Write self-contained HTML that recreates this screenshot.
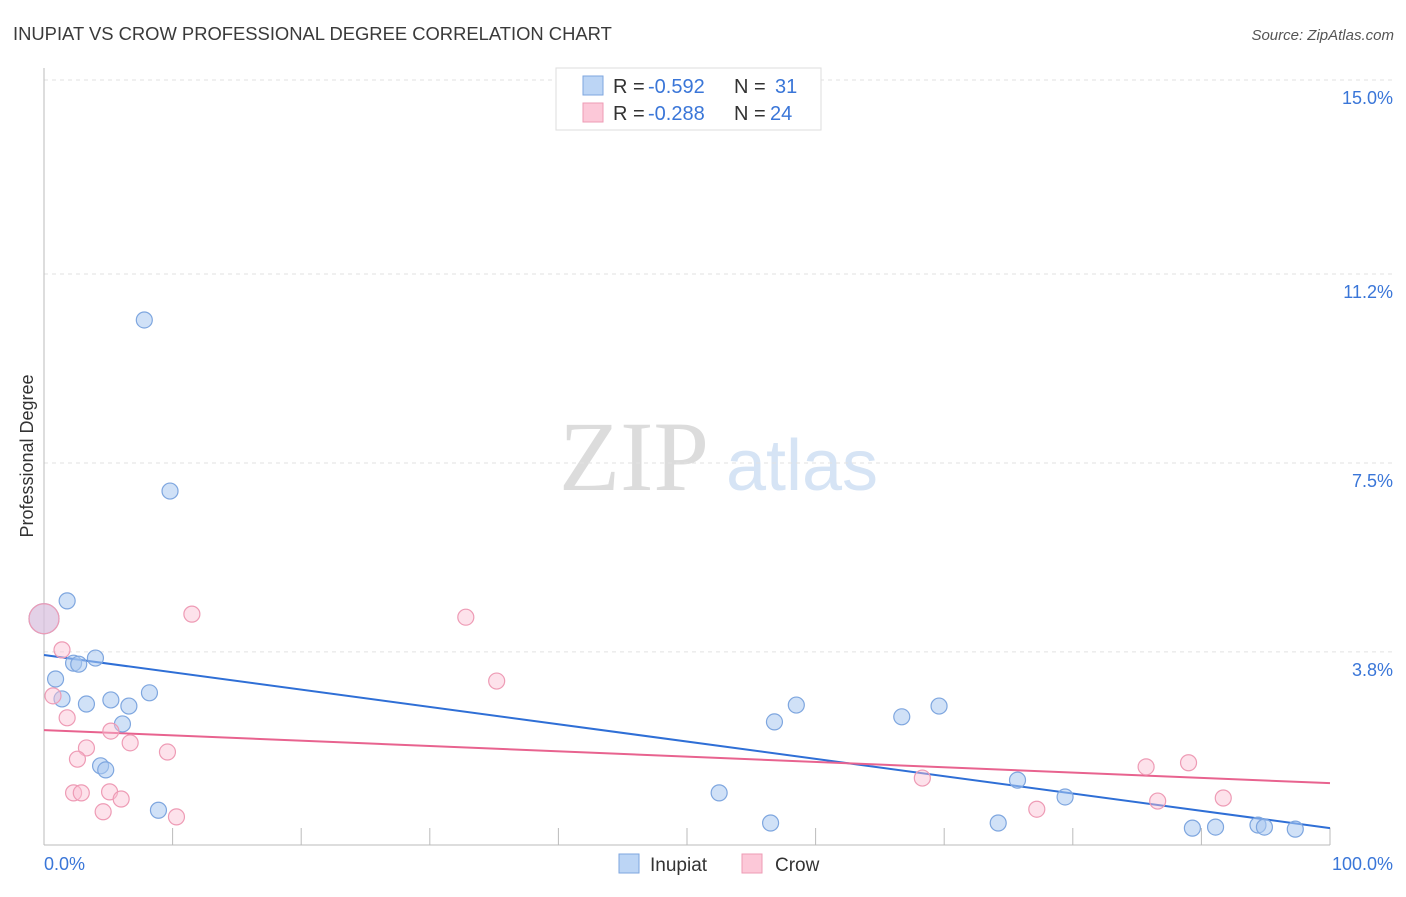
<!DOCTYPE html>
<html><head><meta charset="utf-8"><style>
body{margin:0;background:#fff;}
</style></head><body>
<svg id="chart" width="1406" height="892" xmlns="http://www.w3.org/2000/svg" font-family="Liberation Sans, sans-serif">
<text x="13" y="40" font-size="18.4" fill="#3a3a3a">INUPIAT VS CROW PROFESSIONAL DEGREE CORRELATION CHART</text>
<text x="1394" y="40" font-size="15" fill="#555" text-anchor="end" font-style="italic">Source: ZipAtlas.com</text>
<text transform="translate(33,456) rotate(-90)" font-size="18" fill="#333" text-anchor="middle">Professional Degree</text>
<g>
<text x="634" y="490" font-size="100" fill="#dcdcdc" style="font-family:'Liberation Serif',serif" text-anchor="middle">ZIP</text>
<text x="802" y="490" font-size="72" fill="#d6e4f5" text-anchor="middle">atlas</text>
</g>
<g id="grid"></g><g id="axes"></g><g id="lines"></g><g id="pts"></g>
<g>
<rect x="556" y="68" width="265" height="62" fill="#fff" stroke="#ddd"/>
<rect x="583" y="76" width="20" height="19" fill="#bcd5f5" stroke="#7ea6df"/>
<rect x="583" y="103" width="20" height="19" fill="#fcc8d8" stroke="#ee9bb5"/>
<text x="613" y="93" font-size="20" fill="#333">R =</text>
<text x="648" y="93" font-size="20" fill="#3a76d8">-0.592</text>
<text x="734" y="93" font-size="20" fill="#333">N =</text>
<text x="775" y="93" font-size="20" fill="#3a76d8">31</text>
<text x="613" y="120" font-size="20" fill="#333">R =</text>
<text x="648" y="120" font-size="20" fill="#3a76d8">-0.288</text>
<text x="734" y="120" font-size="20" fill="#333">N =</text>
<text x="770" y="120" font-size="20" fill="#3a76d8">24</text>
</g>
<g>
<rect x="619" y="854" width="20" height="19" fill="#bcd5f5" stroke="#7ea6df"/>
<text x="650" y="871" font-size="19" fill="#333">Inupiat</text>
<rect x="742" y="854" width="20" height="19" fill="#fcc8d8" stroke="#ee9bb5"/>
<text x="775" y="871" font-size="19" fill="#333">Crow</text>
</g>
</svg>
<script>
const yTicks=[15.0,11.2,7.5,3.8];
const yTickLabels=["15.0%","11.2%","7.5%","3.8%"];
const xTickLabels=["0.0%","100.0%"];
const inupiatX=[7.8,9.8,1.8,0,2.3,2.7,4.0,0.9,1.4,3.3,5.2,6.6,8.2,6.1,4.4,4.8,8.9,52.5,56.5,56.8,58.5,66.7,69.6,74.2,75.7,79.4,89.3,91.1,94.4,94.9,97.3];
const inupiatY=[10.3,6.95,4.8,4.45,3.58,3.56,3.68,3.27,2.88,2.78,2.86,2.74,3.0,2.39,1.57,1.49,0.70,1.04,0.45,2.43,2.76,2.53,2.74,0.45,1.29,0.96,0.35,0.37,0.41,0.37,0.33];
const crowX=[0,11.5,32.8,35.2,1.4,0.7,1.8,5.2,3.3,6.7,2.6,9.6,2.3,2.9,5.1,6.0,4.6,10.3,68.3,77.2,85.7,86.6,89.0,91.7];
const crowY=[4.45,4.54,4.48,3.23,3.84,2.94,2.51,2.25,1.92,2.02,1.70,1.84,1.04,1.04,1.06,0.92,0.67,0.57,1.33,0.72,1.55,0.88,1.63,0.94];
const inupiatTrend=[3.74,0.35];
const crowTrend=[2.27,1.23];
const NS="http://www.w3.org/2000/svg";
const X=v=>44+v*12.86, Y=v=>846-v*51.07;
function mk(p,t,a){const e=document.createElementNS(NS,t);for(const k in a)e.setAttribute(k,a[k]);document.getElementById(p).appendChild(e);return e;}
yTicks.forEach((t,i)=>{
 const l=mk('grid','line',{x1:44,x2:1394,y1:Y(t),y2:Y(t),stroke:'#e2e2e2','stroke-dasharray':'4,4'});
 
 
 const tx=mk('grid','text',{x:1393,y:Y(t)+24,'font-size':18,fill:'#3a76d8','text-anchor':'end'});tx.textContent=yTickLabels[i];
 
 
});
mk('axes','line',{x1:44,x2:44,y1:68,y2:845,stroke:'#bbb'});
mk('axes','line',{x1:44,x2:1330,y1:845,y2:845,stroke:'#bbb'});
for(let i=0;i<=10;i++){mk('axes','line',{x1:X(i*10),x2:X(i*10),y1:828,y2:845,stroke:'#bbb'});}
const xl0=mk('axes','text',{x:44,y:870,'font-size':18,fill:'#3a76d8'});xl0.textContent=xTickLabels[0];


const xl1=mk('axes','text',{x:1393,y:870,'font-size':18,fill:'#3a76d8','text-anchor':'end'});xl1.textContent=xTickLabels[1];


function pts(xs,ys,fill,stroke,name){xs.forEach((x,i)=>{const r=(x===0)?15:8;const c=mk('pts','circle',{cx:X(x),cy:Y(ys[i]),r:r,fill:fill,stroke:stroke,'stroke-width':1.2});
 
 });}
pts(inupiatX,inupiatY,'rgba(170,200,240,0.55)','#7ea6df','inupiat-point');
pts(crowX,crowY,'rgba(250,190,210,0.45)','#ee9bb5','crow-point');
const l1=mk('lines','line',{x1:X(0),x2:X(100),y1:Y(inupiatTrend[0]),y2:Y(inupiatTrend[1]),stroke:'#2f6fd6','stroke-width':2});


const l2=mk('lines','line',{x1:X(0),x2:X(100),y1:Y(crowTrend[0]),y2:Y(crowTrend[1]),stroke:'#e8638f','stroke-width':2});


</script>
</body></html>
